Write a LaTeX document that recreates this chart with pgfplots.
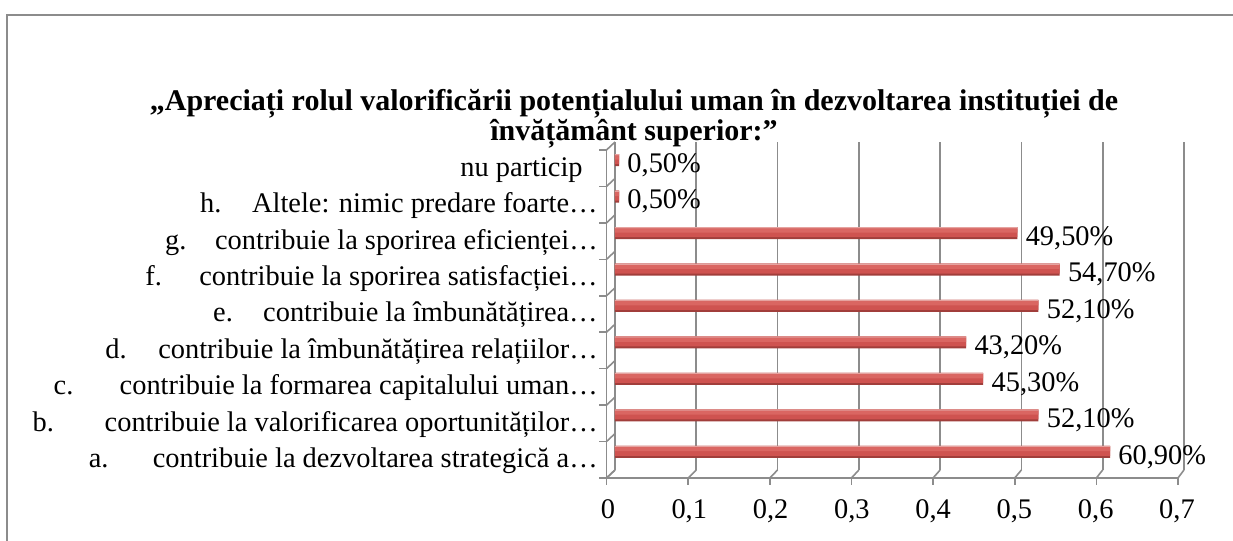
\documentclass[border=0pt]{standalone}
\usepackage{pgfplots}
\pgfplotsset{compat=1.18}
\usepackage{fontspec}
\setmainfont{Liberation Serif}
\definecolor{barmid}{HTML}{CF5350}
\definecolor{barlight}{HTML}{DA6662}
\definecolor{baredge}{HTML}{E6A3A0}
\definecolor{bardark}{HTML}{A13E3B}
\definecolor{gridgray}{HTML}{8C8C8C}
\newcommand\lab[3]{\makebox[#1][l]{#2}#3}
\pgfplotstableread{
v i
0.609 0
0.521 1
0.453 2
0.432 3
0.521 4
0.547 5
0.495 6
0.005 7
0.005 8
}\datatable
\begin{document}
\begin{tikzpicture}
\useasboundingbox (0pt,0pt) rectangle (616.5pt,270.5pt);
\draw[gridgray, line width=1pt] (3.5pt,0pt) -- (3.5pt,263pt) -- (616.5pt,263pt);
\node[font=\fontsize{15}{15}\selectfont\bfseries, align=center] at (317pt,211pt) {„Apreciați rolul valorificării potențialului uman în dezvoltarea instituției de\\învățământ superior:”};
% front plane of the 3D frame
\draw[gridgray, line width=0.8pt] (303.25pt,195.5pt) -- (303.25pt,31.5pt) -- (589pt,31.5pt);
\foreach \k in {0,...,7}{
  \draw[gridgray, line width=0.8pt] (303.25pt+40.82pt*\k,31.5pt) -- ++(0pt,-3.5pt);
  \draw[gridgray, line width=0.8pt] (303.25pt+40.82pt*\k,31.5pt) -- (307.5pt+40.64pt*\k,35.5pt);
}
\foreach \k in {0,...,9}{
  \draw[gridgray, line width=0.8pt] (303.25pt,31.5pt+18.222pt*\k) -- ++(-4pt,0pt);
  \draw[gridgray, line width=0.8pt] (303.25pt,31.5pt+18.222pt*\k) -- (307.5pt,35.5pt+18.222pt*\k);
}
\begin{axis}[
  at={(307.5pt,35.5pt)}, anchor=south west, scale only axis,
  width=284.5pt, height=164pt,
  xmin=0, xmax=0.7, ymin=-0.5, ymax=8.5,
  axis line style={draw=none},
  major tick length=0pt,
  xtick={0,0.1,0.2,0.3,0.4,0.5,0.6,0.7},
  xmajorgrids, grid style={gridgray, line width=0.8pt},
  ytick={0,1,2,3,4,5,6,7,8},
  yticklabels={
    \lab{32pt}{a.}{contribuie la dezvoltarea strategică a…},
    \lab{36pt}{b.}{contribuie la valorificarea oportunităților…},
    \lab{33pt}{c.}{contribuie la formarea capitalului uman…},
    \lab{26.5pt}{d.}{contribuie la îmbunătățirea relațiilor…},
    \lab{25pt}{e.}{contribuie la îmbunătățirea…},
    \lab{27pt}{f.}{contribuie la sporirea satisfacției…},
    \lab{25pt}{g.}{contribuie la sporirea eficienței…},
    \lab{26pt}{h.}{Altele: nimic predare foarte…},
    nu particip\hspace*{7.5pt}},
  /pgf/number format/assume math mode=true,
  /pgf/number format/use comma,
  xticklabel style={font=\fontsize{14.2}{14}\selectfont, anchor=base, inner sep=0pt, yshift=-24pt, xshift=-3.5pt},
  yticklabel style={font=\fontsize{14.2}{14}\selectfont, anchor=base east, inner sep=0pt, xshift=-8.5pt, yshift=-8pt},
  clip=false,
]
\addplot[xbar, bar width=6pt, bar shift=0pt, fill=bardark, draw=none] table[x=v, y=i] {\datatable};
\addplot[xbar, bar width=5pt, bar shift=0.5pt, fill=barmid, draw=none] table[x=v, y=i] {\datatable};
\addplot[xbar, bar width=2pt, bar shift=1.3pt, fill=barlight, draw=none] table[x=v, y=i] {\datatable};
\addplot[xbar, bar width=0.6pt, bar shift=2.7pt, fill=baredge, draw=none,
  point meta={x*100},
  nodes near coords={\pgfmathprintnumber[fixed,fixed zerofill,precision=2,use comma,assume math mode=true]{\pgfplotspointmeta}\%},
  nodes near coords style={anchor=west, text=black, font=\fontsize{14.2}{14}\selectfont, inner sep=0pt, xshift=4pt, yshift=-2.5pt}]
  table[x=v, y=i] {\datatable};
\end{axis}
\end{tikzpicture}
\end{document}
